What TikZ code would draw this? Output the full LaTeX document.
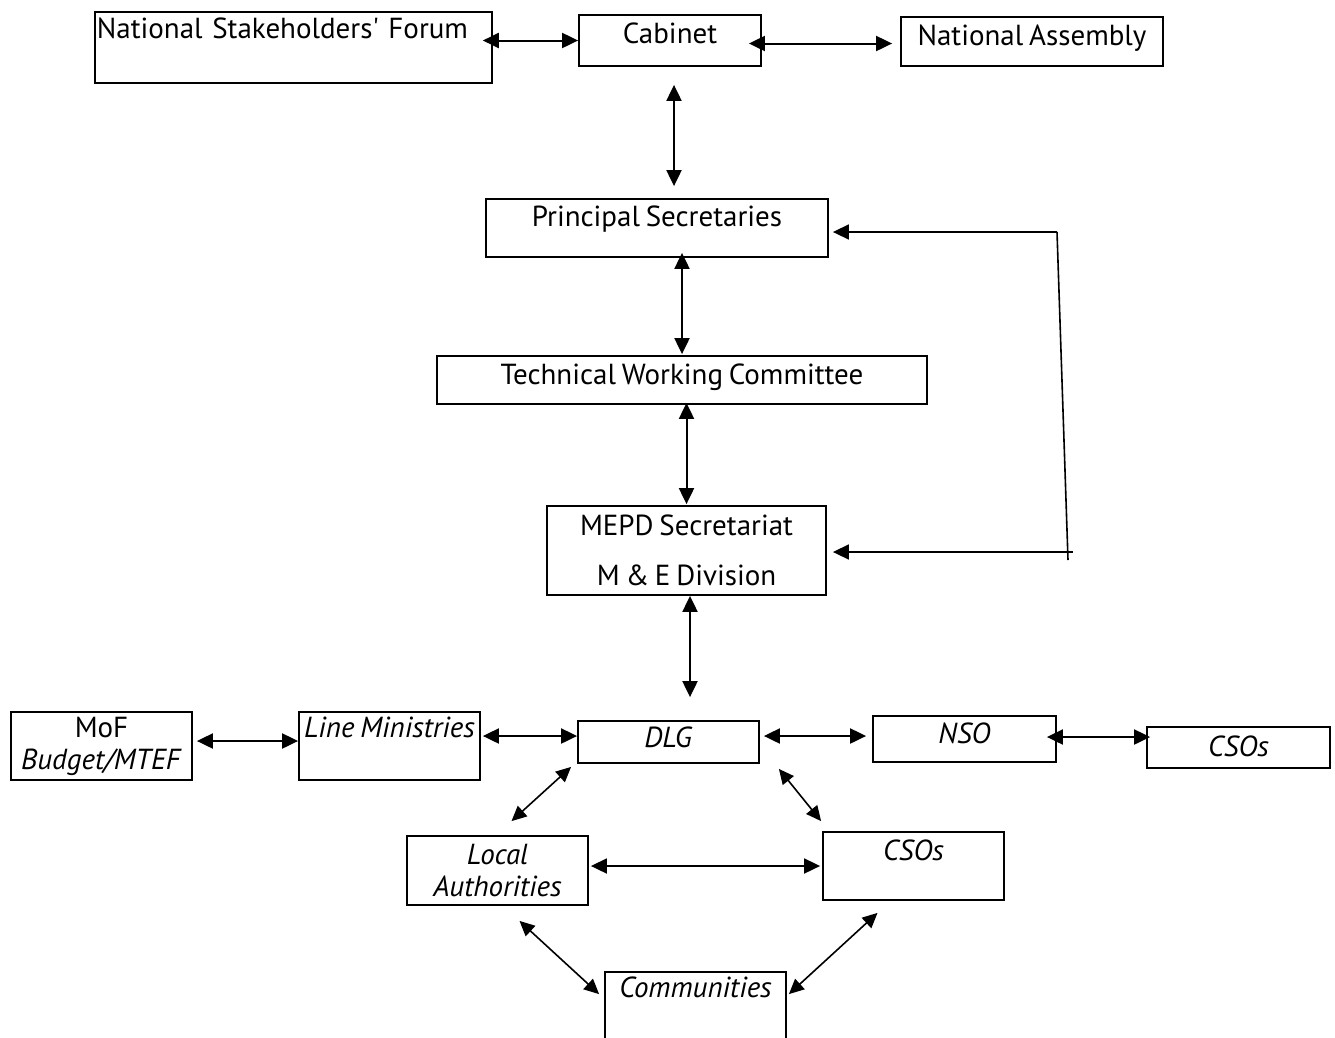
\documentclass[tikz,border=0pt]{standalone}
\usepackage{fontspec}
\setmainfont{PT Sans}[WordSpace=0.75]
\usetikzlibrary{arrows.meta,positioning}

\tikzset{
  box/.style={draw, line width=1.8pt, inner xsep=2pt, inner ysep=0pt,
    font=\fontsize{29}{32}\selectfont},
  tb/.style 2 args={text height=#1pt, text depth=#2pt, anchor=base},
  link/.style={{Triangle[length=16pt,width=15pt]}-{Triangle[length=16pt,width=15pt]}, line width=2pt},
  slant/.style={{Triangle[length=15pt,width=14pt]}-{Triangle[length=15pt,width=14pt]}, line width=1.6pt},
  back/.style={-{Triangle[length=16pt,width=15pt]}, line width=1.6pt}
}

\begin{document}
\begin{tikzpicture}[x=1pt, y=-1pt]
  \clip (0,0) rectangle (1335,1037);

  % top row
  \node[box, tb={26}{45}, anchor=base west, text width=393pt, align=left] (nsf) at (94,38)
    {\mbox{National Stakeholders\textquotesingle{} Forum}};
  \node[box, tb={28}{23}, minimum width=182pt] (cab) at (670,43) {Cabinet};
  \node[box, tb={28}{21}, minimum width=262pt] (na) at (1032,45) {National Assembly};

  % middle column
  \node[box, tb={27}{31}, minimum width=342pt] (ps) at (657,226) {Principal Secretaries};
  \node[box, tb={28}{20}, minimum width=490pt] (twc) at (682,384) {Technical Working Committee};
  \node[box, minimum width=279pt, minimum height=89pt, align=center] (mepd) at (686.5,550.5)
    {MEPD Secretariat\\[18pt] M \& E Division};

  % district row
  \node[box, minimum width=181pt, minimum height=68pt, align=center] (mof) at (101.5,746)
    {MoF\\ \textit{Budget/MTEF}};
  \node[box, tb={25}{43}, minimum width=181pt] (lm) at (389.5,737) {\textit{Line Ministries}};
  \node[box, tb={26}{16}, minimum width=181pt] (dlg) at (668.5,747) {\textit{DLG}};
  \node[box, tb={27}{19}, minimum width=183pt] (nso) at (964.5,743) {\textit{NSO}};
  \node[box, tb={29}{12}, minimum width=183pt] (csor) at (1238.5,756) {\textit{CSOs}};

  % local level
  \node[box, minimum width=181pt, minimum height=69pt, align=center] (la) at (497.5,870.5)
    {\textit{Local}\\ \textit{Authorities}};
  \node[box, tb={28}{40}, minimum width=181pt] (csom) at (913.5,860) {\textit{CSOs}};
  \node[box, tb={25}{60}, minimum width=181pt] (com) at (695.5,997) {\textit{Communities}};

  % feedback line on the right
  \coordinate (fbtop) at (1057,232);
  \coordinate (fbbot) at (1068,560);
  \coordinate (fbend) at (1073,552);

  % connectors
  \draw[link, shorten <=-10pt] (cab.west -| nsf.east) -- (cab.west);
  \draw[link, shorten <=-13pt, shorten >=8pt] ([yshift=-3pt]cab.east) -- ([yshift=-3pt]cab.east -| na.west);
  \draw[link, shorten <=18pt, shorten >=12pt] ([xshift=4pt]cab.south) -- ([xshift=4pt]cab.south |- ps.north);
  \draw[link, shorten <=-5pt, shorten >=1pt] (twc.north |- ps.south) -- (twc.north);
  \draw[link, shorten <=-2pt, shorten >=1pt] (mepd.north |- twc.south) -- (mepd.north);
  \draw[link, shorten >=23pt] ([xshift=3.5pt]mepd.south) -- ([xshift=3.5pt]mepd.south |- dlg.north);
  \draw[link, shorten <=4pt] ([yshift=5pt]mof.east) -- ([yshift=5pt]lm.west);
  \draw[link, shorten <=2pt] ([yshift=6pt]dlg.west -| lm.east) -- ([yshift=6pt]dlg.west);
  \draw[link, shorten <=4pt, shorten >=6pt] ([yshift=6pt]dlg.east) -- ([yshift=6pt]dlg.east -| nso.west);
  \draw[link, shorten <=-10pt, shorten >=-4pt] ([yshift=2pt]nso.east) -- ([yshift=2pt]nso.east -| csor.west);

  \draw[slant] ([shift={(-6,3)}]dlg.south west) -- ([shift={(14,-14)}]la.north);
  \draw[slant] ([shift={(19,5)}]dlg.south east) -- ([shift={(-1,-10)}]csom.north west);
  \draw[link, line width=1.8pt, shorten <=2pt, shorten >=2pt] (csom.west -| la.east) -- (csom.west);
  \draw[slant] ([shift={(22,15)}]la.south) -- ([shift={(-5,23)}]com.north west);
  \draw[slant] ([shift={(-36,12)}]csom.south) -- ([shift={(2,23)}]com.north east);

  \draw[line width=1.6pt] (fbtop) -- (fbbot);
  \draw[back, shorten >=4pt] (fbtop) -- (fbtop -| ps.east);
  \draw[back, shorten >=6pt] (fbend) -- (fbend -| mepd.east);
\end{tikzpicture}
\end{document}
